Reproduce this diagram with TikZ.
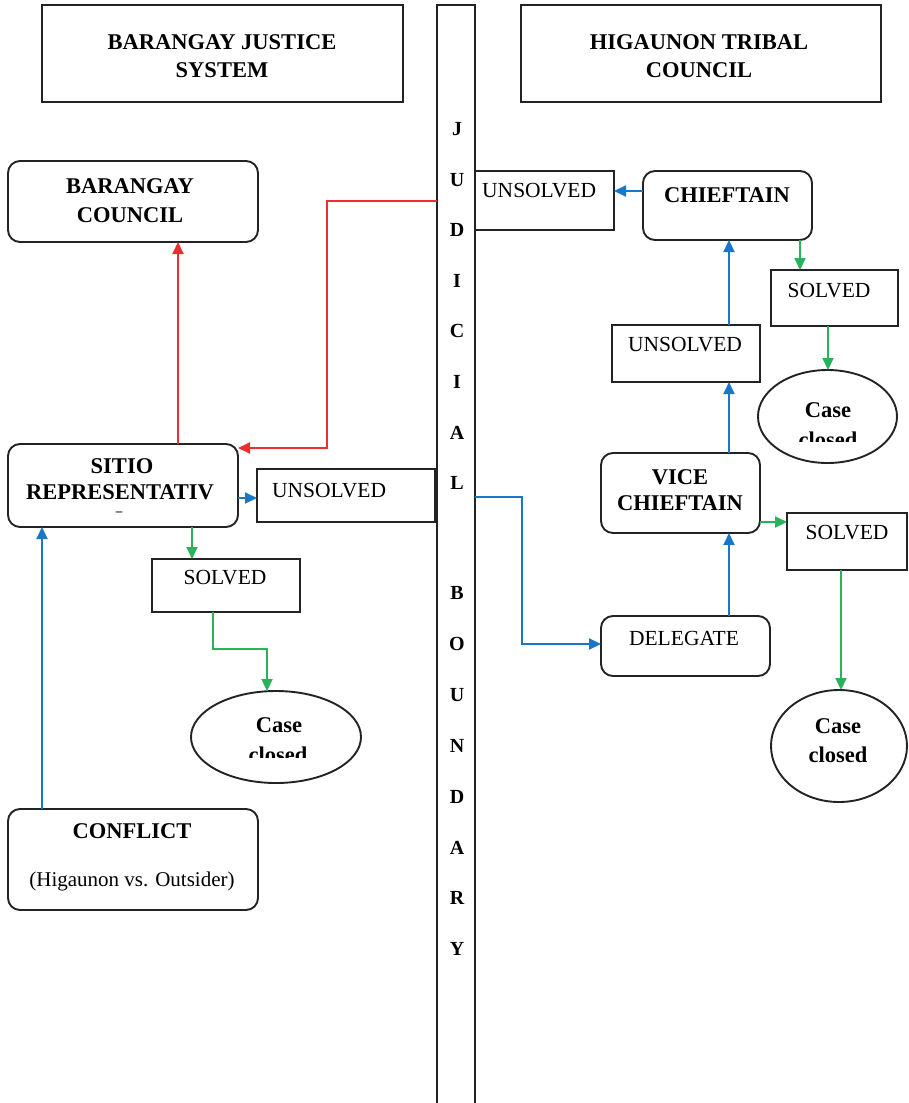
\documentclass[tikz,border=0pt]{standalone}
\usepackage{fontspec}
\setmainfont{Liberation Serif}
\usetikzlibrary{arrows.meta,shapes.geometric}
\definecolor{cred}{RGB}{237,45,50}
\definecolor{cblue}{RGB}{25,118,200}
\definecolor{cgreen}{RGB}{40,178,90}
\definecolor{cline}{RGB}{35,35,35}
\tikzset{
  box/.style={draw=cline, line width=1.9pt, inner sep=0pt, outer sep=0pt},
  rbox/.style={box, rounded corners=12pt},
  ebox/.style={box, ellipse},
  txt/.style={inner sep=0pt, anchor=base, font=\fontsize{21.5}{26}\selectfont},
  btxt/.style={inner sep=0pt, anchor=base, font=\bfseries\fontsize{22.5}{26}\selectfont},
  ltr/.style={inner sep=0pt, anchor=center, font=\bfseries\fontsize{20}{24}\selectfont},
  arr/.style={line width=2pt, -{Triangle[length=12pt,width=11pt]}},
}
\begin{document}
\begin{tikzpicture}[x=1pt,y=-1pt]
\useasboundingbox (0,0) rectangle (908,1103);
% headers
\node[box, minimum width=361, minimum height=97] (hl) at (222.5,53.5) {};
\node[btxt] (hl1) at (222,49) {BARANGAY JUSTICE};
\node[btxt] (hl2) at (222,77) {SYSTEM};
\node[box, minimum width=360, minimum height=97] (hr) at (701,53.5) {};
\node[btxt] (hr1) at (699,49) {HIGAUNON TRIBAL};
\node[btxt] (hr2) at (699,77) {COUNCIL};
% boundary bar
\node[box, minimum width=38, minimum height=1102] (bar) at (456,556) {};
\foreach \l [count=\i] in {J,U,D,I,C,I,A,L}
  \node[ltr] (ja\i) at (457,{129+(\i-1)*50.6}) {\l};
\foreach \l [count=\i] in {B,O,U,N,D,A,R,Y}
  \node[ltr] (jb\i) at (457,{593+(\i-1)*50.9}) {\l};
% left side
\node[rbox, minimum width=250, minimum height=81] (bc) at (133,201.5) {};
\node[btxt] (bc1) at (130,193) {BARANGAY};
\node[btxt] (bc2) at (130,222) {COUNCIL};
\node[rbox, minimum width=230, minimum height=83] (sr) at (123,485.5) {};
\node[btxt] (sr1) at (122,473) {SITIO};
\node[btxt] (sr2) at (120,499) {REPRESENTATIV};
\node[inner sep=0pt, font=\bfseries\fontsize{13}{14}\selectfont] (sr3) at (119,514) {\textendash};
\node[box, minimum width=178, minimum height=53] (ul) at (346,495.5) {};
\node[txt, anchor=base west] (ult) at (272,497) {UNSOLVED};
\node[box, minimum width=148, minimum height=53] (sl) at (226,585.5) {};
\node[txt] (slt) at (225,584) {SOLVED};
\node[ebox, minimum width=170, minimum height=92] (cl) at (276,737) {};
\node[btxt] (cl1) at (279,732) {Case};
\begin{scope}
  \clip (191,700) rectangle (361,757);
  \node[btxt] (cl2) at (278,762) {closed};
\end{scope}
\node[rbox, minimum width=250, minimum height=101] (cf) at (133,859.5) {};
\node[btxt] (cf1) at (132,838) {CONFLICT};
\node[txt, font=\fontsize{21}{26}\selectfont] (cf2) at (132,886) {(Higaunon vs. Outsider)};
% right side
\node[box, minimum width=139, minimum height=59] (ur) at (544.5,200.5) {};
\node[txt, anchor=base west] (urt) at (482,197) {UNSOLVED};
\node[rbox, minimum width=169, minimum height=69] (ch) at (727.5,205.5) {};
\node[btxt] (cht) at (727,202) {CHIEFTAIN};
\node[box, minimum width=127, minimum height=56] (s1) at (834.5,298) {};
\node[txt] (s1t) at (829,297) {SOLVED};
\node[box, minimum width=148, minimum height=57] (um) at (686,353.5) {};
\node[txt] (umt) at (685,351) {UNSOLVED};
\node[ebox, minimum width=139, minimum height=93] (c1) at (827.5,416.5) {};
\node[btxt] (c1a) at (828,417) {Case};
\begin{scope}
  \clip (758,380) rectangle (897,441);
  \node[btxt] (c1b) at (828,447) {closed};
\end{scope}
\node[rbox, minimum width=159, minimum height=80] (vc) at (680.5,493) {};
\node[btxt] (vc1) at (680,484) {VICE};
\node[btxt] (vc2) at (680,510) {CHIEFTAIN};
\node[box, minimum width=120, minimum height=57] (s2) at (847,541.5) {};
\node[txt] (s2t) at (847,539) {SOLVED};
\node[rbox, minimum width=169, minimum height=60] (dg) at (685.5,646) {};
\node[txt] (dgt) at (684,645) {DELEGATE};
\node[ebox, minimum width=136, minimum height=112] (c2) at (839,746) {};
\node[btxt] (c2a) at (838,733) {Case};
\node[btxt] (c2b) at (838,762) {closed};
% connectors: red
\draw[arr, cred] (sr.north -| 178,0) -- (bc.south -| 178,0);
\draw[arr, cred] (bar.west |- 0,201) -| (327,448) -- (sr.east |- 0,448);
% left blue / green
\draw[arr, cblue] (cf.north -| 42,0) -- (sr.south -| 42,0);
\draw[arr, cblue] (sr.east |- 0,498) -- (ul.west |- 0,498);
\draw[arr, cgreen] (sr.south -| 192,0) -- (sl.north -| 192,0);
\draw[arr, cgreen] (sl.south -| 213,0) |- (267,649) -- (cl.north -| 267,0);
% right blue
\draw[arr, cblue] (bar.east |- 0,497) -| (522,644) -- (dg.west |- 0,644);
\draw[arr, cblue] (dg.north -| 729,0) -- (vc.south -| 729,0);
\draw[arr, cblue] (vc.north -| 729,0) -- (um.south -| 729,0);
\draw[arr, cblue] (um.north -| 729,0) -- (ch.south -| 729,0);
\draw[arr, cblue] (ch.west |- 0,191) -- (ur.east |- 0,191);
% right green
\draw[arr, cgreen] (ch.south -| 800,0) -- (s1.north -| 800,0);
\draw[arr, cgreen] (s1.south -| 828,0) -- (c1.north -| 828,0);
\draw[arr, cgreen] (vc.east |- 0,522) -- (s2.west |- 0,522);
\draw[arr, cgreen] (s2.south -| 841,0) -- (c2.north -| 841,0);
\end{tikzpicture}
\end{document}
